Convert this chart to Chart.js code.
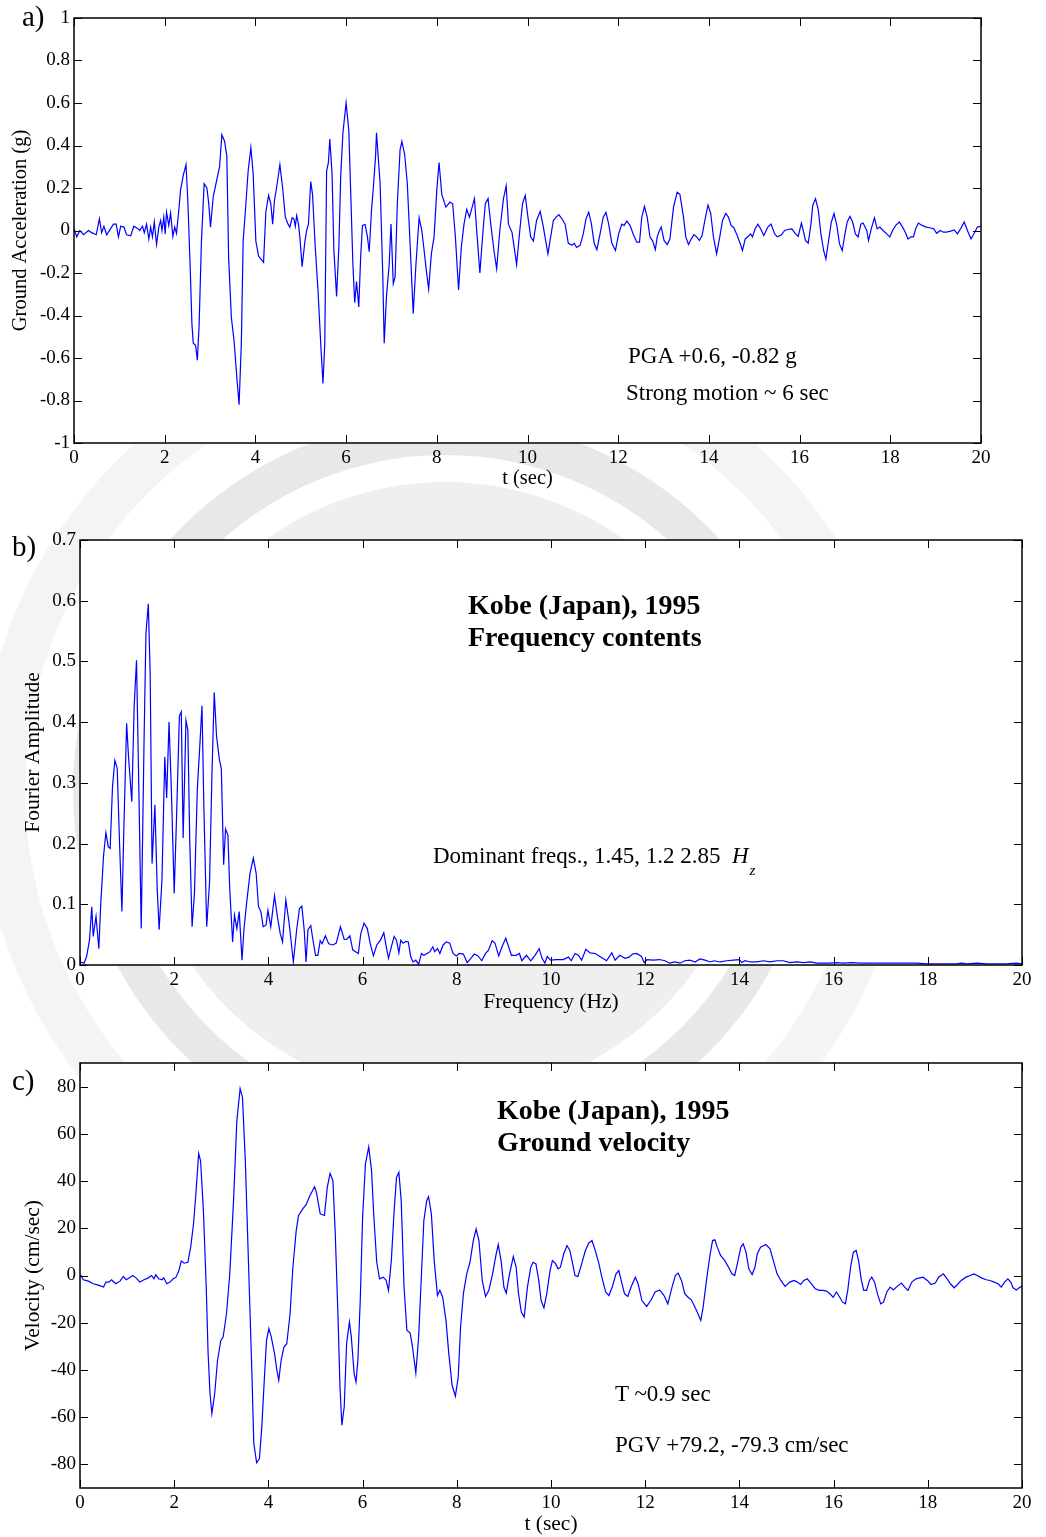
<!DOCTYPE html>
<html>
<head>
<meta charset="utf-8">
<title>Kobe (Japan), 1995 - ground motion</title>
<script src="https://cdn.jsdelivr.net/npm/chart.js@4"></script>
<style>
  body { margin: 0; background: #fff; }
  #page { position: relative; width: 1046px; height: 1537px; overflow: hidden;
          font-family: "Liberation Serif", "Times New Roman", serif; color: #000; }
  #seal { position: absolute; left: 0; top: 0; }
  .panel { position: absolute; left: 0; }
  .note { position: absolute; white-space: nowrap; font-size: 23px; line-height: 23px; }
  .head { position: absolute; white-space: nowrap; font-size: 28px; line-height: 28px; font-weight: bold; }
  .tag { position: absolute; font-size: 29px; line-height: 29px; }
</style>
</head>
<body>
<div id="page">
  <canvas id="seal" width="1046" height="1537"></canvas>
  <canvas id="accChart" class="panel" style="top:0" width="1046" height="500"></canvas>
  <canvas id="fftChart" class="panel" style="top:500px" width="1046" height="520"></canvas>
  <canvas id="velChart" class="panel" style="top:1020px" width="1046" height="517"></canvas>

  <div class="tag" style="left:22px;top:2px">a)</div>
  <div class="tag" style="left:12px;top:532px">b)</div>
  <div class="tag" style="left:12px;top:1066px">c)</div>

  <div class="note" style="left:628px;top:344px">PGA +0.6, -0.82 g</div>
  <div class="note" style="left:626px;top:381px">Strong motion ~ 6 sec</div>

  <div class="head" style="left:468px;top:591px">Kobe (Japan), 1995</div>
  <div class="head" style="left:468px;top:623px">Frequency contents</div>
  <div class="note" style="left:433px;top:844px">Dominant freqs., 1.45, 1.2 2.85&nbsp;&nbsp;<i>H</i><i style="font-size:15px;position:relative;top:12px;left:1px">z</i></div>

  <div class="head" style="left:497px;top:1096px">Kobe (Japan), 1995</div>
  <div class="head" style="left:497px;top:1128px">Ground velocity</div>
  <div class="note" style="left:615px;top:1382px">T ~0.9 sec</div>
  <div class="note" style="left:615px;top:1433px">PGV +79.2, -79.3 cm/sec</div>
</div>

<script>
// axis ticks
const timeTicks = [0, 2, 4, 6, 8, 10, 12, 14, 16, 18, 20];
const accTicks = [-1, -0.8, -0.6, -0.4, -0.2, 0, 0.2, 0.4, 0.6, 0.8, 1];
const ampTicks = [0, 0.1, 0.2, 0.3, 0.4, 0.5, 0.6, 0.7];
const velTicks = [-80, -60, -40, -20, 0, 20, 40, 60, 80];

// ground acceleration [t (sec), g]
const accel = [
  [0,0.01],[0.06,-0.03],[0.13,0],[0.21,-0.02],[0.32,0],[0.39,-0.01],[0.49,-0.02],[0.56,0.055],[0.61,-0.01],[0.66,0.02],
  [0.72,-0.02],[0.87,0.03],[0.93,0.03],[0.98,-0.03],[1.03,0.02],[1.1,0.016],[1.16,-0.02],[1.25,-0.025],[1.32,0.02],[1.4,0.01],
  [1.45,0],[1.51,0.02],[1.55,-0.01],[1.6,0.03],[1.65,-0.04],[1.69,0.016],[1.73,-0.03],[1.77,0.04],[1.82,-0.066],[1.87,0.016],
  [1.91,0.047],[1.94,0],[1.98,0.063],[2.01,-0.016],[2.04,0.086],[2.09,0.024],[2.13,0.082],[2.18,-0.028],[2.22,0.016],[2.26,-0.013],
  [2.31,0.094],[2.35,0.19],[2.41,0.26],[2.47,0.31],[2.51,0.14],[2.56,-0.16],[2.6,-0.44],[2.63,-0.53],[2.68,-0.54],[2.72,-0.61],
  [2.76,-0.44],[2.81,-0.05],[2.87,0.22],[2.93,0.2],[2.97,0.13],[3.01,0.016],[3.07,0.16],[3.15,0.24],[3.21,0.3],[3.26,0.45],
  [3.32,0.42],[3.37,0.35],[3.41,-0.13],[3.47,-0.41],[3.53,-0.52],[3.59,-0.69],[3.64,-0.82],[3.69,-0.53],[3.73,-0.05],[3.78,0.094],
  [3.84,0.28],[3.9,0.39],[3.95,0.27],[4.01,-0.05],[4.07,-0.12],[4.18,-0.15],[4.23,0.086],[4.29,0.165],[4.34,0.126],[4.38,0.03],
  [4.42,0.14],[4.48,0.22],[4.54,0.31],[4.6,0.2],[4.66,0.063],[4.72,0.03],[4.76,0.016],[4.81,0.06],[4.85,0.055],[4.88,0.02],
  [4.91,0.07],[4.95,0.03],[4.98,-0.03],[5.03,-0.17],[5.09,-0.055],[5.13,0],[5.17,0.03],[5.22,0.23],[5.26,0.17],[5.32,-0.08],
  [5.38,-0.28],[5.44,-0.53],[5.49,-0.72],[5.53,-0.53],[5.57,0.28],[5.61,0.32],[5.64,0.43],[5.69,0.27],[5.73,-0.09],[5.79,-0.31],
  [5.84,-0.08],[5.88,0.25],[5.93,0.46],[6.0,0.6],[6.06,0.47],[6.1,0.19],[6.15,-0.16],[6.19,-0.34],[6.23,-0.24],[6.28,-0.36],
  [6.32,-0.13],[6.36,0.024],[6.42,0.028],[6.47,-0.03],[6.51,-0.1],[6.56,0.094],[6.6,0.2],[6.65,0.35],[6.67,0.46],[6.75,0.22],
  [6.81,-0.22],[6.84,-0.53],[6.89,-0.31],[6.95,-0.16],[6.99,0.03],[7.04,-0.25],[7.08,-0.22],[7.13,0.126],[7.19,0.38],[7.23,0.42],
  [7.29,0.36],[7.35,0.22],[7.41,-0.06],[7.48,-0.39],[7.54,-0.16],[7.61,0.06],[7.67,0],[7.72,-0.094],[7.77,-0.19],[7.82,-0.275],
  [7.88,-0.11],[7.94,-0.03],[8.0,0.19],[8.05,0.32],[8.11,0.17],[8.2,0.11],[8.29,0.134],[8.35,0.126],[8.41,-0.03],[8.48,-0.28],
  [8.54,-0.08],[8.6,0.03],[8.66,0.1],[8.72,0.063],[8.78,0.11],[8.83,0.15],[8.89,-0.03],[8.95,-0.2],[9.02,0],[9.07,0.126],
  [9.13,0.15],[9.19,0.03],[9.26,-0.094],[9.32,-0.18],[9.39,0],[9.47,0.15],[9.53,0.21],[9.58,0.03],[9.66,-0.01],[9.76,-0.16],
  [9.83,0],[9.89,0.126],[9.95,0.165],[10.01,0.063],[10.07,-0.03],[10.13,-0.05],[10.2,0.047],[10.28,0.09],[10.35,0.016],[10.45,-0.11],
  [10.57,0.047],[10.63,0.063],[10.69,0.075],[10.76,0.055],[10.83,0.03],[10.9,-0.06],[10.98,-0.07],[11.03,-0.06],[11.08,-0.08],[11.16,-0.07],
  [11.23,-0.016],[11.29,0.055],[11.35,0.086],[11.41,0.03],[11.47,-0.06],[11.53,-0.09],[11.6,-0.016],[11.67,0.063],[11.73,0.085],[11.79,0.03],
  [11.86,-0.06],[11.94,-0.094],[12.01,-0.016],[12.08,0.03],[12.13,0.024],[12.19,0.044],[12.26,0.024],[12.33,-0.016],[12.41,-0.055],[12.47,-0.055],
  [12.52,0.063],[12.58,0.113],[12.64,0.063],[12.7,-0.03],[12.76,-0.05],[12.82,-0.09],[12.86,-0.03],[12.91,0],[12.95,0.016],[13.01,-0.047],
  [13.08,-0.066],[13.14,-0.04],[13.22,0.11],[13.3,0.18],[13.36,0.17],[13.44,0.063],[13.49,-0.03],[13.55,-0.066],[13.61,-0.04],[13.67,-0.02],
  [13.73,-0.03],[13.79,-0.047],[13.85,-0.024],[13.91,0.047],[13.98,0.12],[14.04,0.08],[14.1,-0.03],[14.17,-0.11],[14.24,-0.03],[14.3,0.047],
  [14.37,0.08],[14.43,0.063],[14.49,0.024],[14.55,0.013],[14.61,-0.016],[14.68,-0.055],[14.74,-0.094],[14.8,-0.04],[14.86,-0.028],[14.92,-0.016],
  [14.96,-0.03],[15.02,0.008],[15.08,0.03],[15.14,0.008],[15.21,-0.024],[15.3,0.016],[15.37,0.03],[15.45,-0.016],[15.51,-0.03],[15.6,-0.02],
  [15.67,0],[15.76,0.006],[15.83,0.008],[15.91,-0.016],[15.97,-0.028],[16.04,0.035],[16.08,0],[16.13,-0.047],[16.19,-0.06],[16.25,0.03],
  [16.29,0.118],[16.35,0.15],[16.41,0.1],[16.47,-0.016],[16.53,-0.094],[16.58,-0.134],[16.64,-0.047],[16.7,0.04],[16.76,0.08],[16.82,0.024],
  [16.88,-0.063],[16.94,-0.094],[17.0,-0.016],[17.05,0.04],[17.11,0.066],[17.17,0.04],[17.23,-0.016],[17.29,-0.03],[17.35,0.03],[17.4,0.035],
  [17.48,0],[17.52,-0.047],[17.58,0.008],[17.65,0.06],[17.71,0.008],[17.77,0.016],[17.84,0],[17.92,-0.016],[17.99,-0.03],[18.05,0],
  [18.12,0.024],[18.2,0.04],[18.27,0.016],[18.33,-0.008],[18.39,-0.04],[18.45,-0.03],[18.51,-0.03],[18.56,0.008],[18.62,0.035],[18.7,0.024],
  [18.79,0.016],[18.87,0.013],[18.96,0.008],[19.02,-0.013],[19.1,0],[19.17,-0.008],[19.24,-0.008],[19.33,-0.003],[19.41,0.003],[19.48,-0.016],
  [19.55,0.008],[19.63,0.04],[19.7,0],[19.78,-0.04],[19.85,-0.013],[19.92,0.016],[20,0.02]
];

// Fourier amplitude [Hz, amplitude]
const spectrum = [
  [0,0.005],[0.085,0.003],[0.14,0.014],[0.2,0.04],[0.25,0.096],[0.28,0.047],[0.34,0.08],[0.4,0.027],[0.44,0.1],[0.5,0.18],
  [0.55,0.218],[0.6,0.195],[0.64,0.192],[0.69,0.294],[0.74,0.337],[0.79,0.324],[0.84,0.2],[0.89,0.088],[0.93,0.222],[0.99,0.398],
  [1.03,0.343],[1.1,0.269],[1.15,0.426],[1.2,0.502],[1.25,0.288],[1.3,0.06],[1.36,0.37],[1.4,0.546],[1.45,0.595],[1.49,0.48],
  [1.53,0.167],[1.59,0.264],[1.64,0.124],[1.68,0.058],[1.74,0.14],[1.8,0.343],[1.84,0.275],[1.89,0.4],[1.94,0.288],[2.0,0.118],
  [2.05,0.244],[2.11,0.41],[2.15,0.417],[2.19,0.209],[2.25,0.403],[2.29,0.387],[2.33,0.206],[2.38,0.063],[2.43,0.118],[2.49,0.288],
  [2.55,0.37],[2.59,0.427],[2.63,0.26],[2.69,0.063],[2.75,0.135],[2.8,0.31],[2.85,0.449],[2.9,0.376],[2.96,0.338],[3.0,0.324],
  [3.05,0.165],[3.09,0.224],[3.14,0.214],[3.18,0.124],[3.24,0.038],[3.28,0.082],[3.33,0.06],[3.38,0.088],[3.44,0.008],[3.48,0.058],
  [3.54,0.104],[3.61,0.151],[3.68,0.176],[3.74,0.151],[3.79,0.096],[3.84,0.088],[3.89,0.063],[3.95,0.066],[3.99,0.09],[4.05,0.063],
  [4.13,0.114],[4.19,0.08],[4.25,0.052],[4.3,0.038],[4.37,0.107],[4.44,0.069],[4.53,0.005],[4.6,0.058],[4.66,0.093],[4.71,0.097],
  [4.76,0.058],[4.8,0.005],[4.84,0.058],[4.9,0.065],[4.94,0.044],[5.0,0.016],[5.05,0.016],[5.1,0.04],[5.14,0.035],[5.21,0.048],
  [5.28,0.035],[5.37,0.033],[5.44,0.036],[5.53,0.063],[5.61,0.042],[5.66,0.042],[5.73,0.048],[5.79,0.025],[5.85,0.022],[5.91,0.019],
  [5.96,0.051],[6.03,0.069],[6.1,0.06],[6.16,0.036],[6.23,0.015],[6.3,0.033],[6.38,0.041],[6.45,0.053],[6.51,0.027],[6.55,0.011],
  [6.61,0.03],[6.67,0.047],[6.72,0.041],[6.77,0.02],[6.81,0.041],[6.86,0.036],[6.92,0.039],[6.97,0.038],[7.02,0.014],[7.07,0.005],
  [7.13,0.008],[7.19,0.001],[7.25,0.019],[7.3,0.016],[7.37,0.019],[7.43,0.022],[7.49,0.03],[7.53,0.022],[7.59,0.027],[7.64,0.019],
  [7.71,0.033],[7.78,0.038],[7.85,0.036],[7.92,0.019],[7.99,0.015],[8.05,0.019],[8.14,0.018],[8.22,0.004],[8.3,0.011],[8.37,0.018],
  [8.45,0.015],[8.53,0.007],[8.61,0.019],[8.67,0.024],[8.75,0.04],[8.81,0.036],[8.89,0.015],[8.96,0.03],[9.04,0.044],[9.1,0.03],
  [9.16,0.016],[9.26,0.016],[9.33,0.019],[9.38,0.007],[9.48,0.016],[9.57,0.007],[9.66,0.016],[9.75,0.027],[9.81,0.011],[9.87,0.003],
  [9.92,0.014],[9.99,0.008],[10.12,0.009],[10.26,0.009],[10.37,0.013],[10.43,0.007],[10.51,0.019],[10.58,0.016],[10.65,0.008],[10.74,0.026],
  [10.83,0.02],[10.94,0.019],[11.04,0.014],[11.18,0.007],[11.29,0.02],[11.36,0.008],[11.46,0.016],[11.57,0.011],[11.66,0.013],[11.73,0.018],
  [11.82,0.019],[11.92,0.014],[11.98,0.004],[12.04,0.009],[12.17,0.008],[12.3,0.009],[12.42,0.007],[12.52,0.003],[12.63,0.005],[12.74,0.003],
  [12.84,0.007],[12.95,0.008],[13.06,0.005],[13.16,0.01],[13.27,0.008],[13.38,0.005],[13.46,0.007],[13.59,0.005],[13.73,0.007],[13.87,0.008],
  [14.0,0.009],[14.05,0.004],[14.12,0.007],[14.23,0.005],[14.37,0.005],[14.51,0.007],[14.65,0.005],[14.79,0.007],[14.93,0.007],[15.07,0.004],
  [15.22,0.005],[15.36,0.004],[15.5,0.005],[15.64,0.003],[15.78,0.003],[15.92,0.003],[16.06,0.004],[16.2,0.003],[16.38,0.004],[16.56,0.003],
  [16.74,0.003],[16.91,0.003],[17.13,0.003],[17.34,0.003],[17.55,0.003],[17.76,0.003],[17.98,0.002],[18.19,0.002],[18.4,0.002],[18.61,0.002],
  [18.72,0.003],[18.83,0.002],[19.04,0.003],[19.25,0.002],[19.46,0.002],[19.67,0.002],[19.88,0.003],[20,0.002]
];

// ground velocity [t (sec), cm/sec]
const velocity = [
  [0.01,0.4],[0.07,-1.8],[0.18,-2.4],[0.28,-3.5],[0.39,-4.1],[0.5,-4.9],[0.55,-2.8],[0.61,-2.8],[0.67,-1.8],[0.76,-3.5],
  [0.85,-2.4],[0.92,-0.4],[0.98,-1.8],[1.05,-1],[1.12,0],[1.19,-1],[1.27,-2.8],[1.36,-1.8],[1.45,-1],[1.52,0],
  [1.57,-1.4],[1.61,0.3],[1.67,-1.4],[1.74,-1.8],[1.78,-1],[1.84,-3.5],[1.91,-2.8],[1.98,-1.4],[2.04,-0.7],[2.1,2.1],
  [2.15,6.1],[2.21,5.2],[2.29,5.6],[2.35,12],[2.41,21.8],[2.46,34.5],[2.52,51.7],[2.56,48.6],[2.62,27.5],[2.68,-4.9],
  [2.72,-33],[2.76,-50],[2.8,-58.5],[2.86,-50],[2.92,-35.9],[2.99,-27.5],[3.04,-26],[3.11,-16.2],[3.18,0.7],[3.26,31.7],
  [3.33,65.5],[3.4,79.2],[3.45,75.4],[3.51,48.6],[3.58,3.5],[3.65,-41.5],[3.69,-71.1],[3.75,-79.3],[3.81,-77.5],[3.86,-64.1],
  [3.92,-41.5],[3.96,-27.5],[4.01,-22.5],[4.06,-26],[4.13,-33],[4.18,-40.1],[4.22,-44.4],[4.27,-35.9],[4.33,-30.3],[4.39,-28.9],
  [4.46,-16.2],[4.52,3.5],[4.59,19],[4.64,25.4],[4.73,28.2],[4.8,30],[4.88,33.8],[4.98,37.6],[5.02,35.2],[5.1,26.1],
  [5.19,25.4],[5.25,37.3],[5.31,43.2],[5.37,40.1],[5.42,17.6],[5.48,-19],[5.52,-47.2],[5.56,-63.4],[5.61,-55.6],[5.66,-28.9],
  [5.72,-19.7],[5.76,-26],[5.82,-41.5],[5.86,-45.1],[5.9,-35.9],[5.95,-10.6],[6.0,24.6],[6.06,47.2],[6.13,54.5],[6.19,44.4],
  [6.24,24.6],[6.3,5.6],[6.36,-1.4],[6.44,-0.7],[6.5,-2.1],[6.55,-6.3],[6.61,6.3],[6.67,27.5],[6.72,41.5],[6.77,43.7],
  [6.82,31.7],[6.88,-4.9],[6.94,-23.2],[7.01,-24.4],[7.06,-30.3],[7.13,-41.3],[7.19,-26],[7.25,0.7],[7.3,23.2],[7.36,31.7],
  [7.4,33.4],[7.46,26.1],[7.52,6.3],[7.59,-8.5],[7.64,-6.3],[7.7,-9.2],[7.77,-19],[7.83,-33.1],[7.9,-46.5],[7.97,-51.1],
  [8.03,-43],[8.08,-21.8],[8.14,-7.7],[8.21,0.7],[8.28,5.6],[8.35,14.8],[8.41,19.7],[8.47,14.8],[8.54,-2.1],[8.61,-8.9],
  [8.68,-6.3],[8.76,0.7],[8.83,8.5],[8.88,13.1],[8.94,6.3],[9.0,-4.9],[9.05,-7.5],[9.12,0.7],[9.2,8],[9.26,3.5],
  [9.31,-7.7],[9.37,-15.5],[9.43,-17.6],[9.5,-4.9],[9.57,3.5],[9.62,5.6],[9.68,4.9],[9.74,-2.1],[9.79,-10.6],[9.85,-13.7],
  [9.91,-7.7],[9.98,2.1],[10.03,6.3],[10.09,5.2],[10.15,2.8],[10.2,3.5],[10.27,9.2],[10.34,12.7],[10.4,10.6],[10.46,4.9],
  [10.51,0],[10.57,-0.4],[10.64,4.2],[10.73,10.6],[10.8,13.7],[10.87,14.8],[10.94,10.6],[11.01,5.6],[11.08,-0.7],[11.16,-7],
  [11.23,-8.5],[11.3,-4.9],[11.38,0.7],[11.44,2.1],[11.49,-2.1],[11.56,-7.7],[11.63,-8.9],[11.7,-4.9],[11.79,-0.7],[11.85,-3.5],
  [11.93,-10.6],[12.03,-13.1],[12.12,-10.6],[12.21,-7],[12.31,-6.1],[12.4,-8.5],[12.48,-12],[12.57,-4.9],[12.64,0],[12.7,1],
  [12.77,-2.1],[12.84,-7.7],[12.92,-9.4],[12.98,-10.3],[13.09,-14.8],[13.18,-19],[13.23,-13.4],[13.31,-0.7],[13.38,9.2],[13.43,14.8],
  [13.48,15.1],[13.53,12],[13.6,8.5],[13.69,6.3],[13.77,3.5],[13.84,0.7],[13.9,0],[13.97,6.3],[14.03,12],[14.08,13.4],
  [14.14,9.9],[14.2,2.8],[14.27,0.4],[14.33,3.5],[14.38,9.2],[14.45,12],[14.56,13.1],[14.65,11.3],[14.74,4.9],[14.8,0.7],
  [14.88,-2.1],[14.97,-4.6],[15.07,-2.8],[15.16,-2.1],[15.23,-2.8],[15.3,-3.8],[15.37,-2.1],[15.44,-1.4],[15.53,-3.5],[15.61,-5.6],
  [15.7,-6.3],[15.78,-6.3],[15.85,-6.6],[15.92,-7.7],[15.99,-9.2],[16.06,-7],[16.13,-9.2],[16.19,-11.3],[16.25,-12],[16.3,-6.3],
  [16.36,3.5],[16.42,9.9],[16.48,10.6],[16.53,6.3],[16.59,-2.1],[16.64,-6.3],[16.7,-6.3],[16.76,-2.1],[16.81,-0.7],[16.87,-2.8],
  [16.93,-7.7],[17.0,-12],[17.06,-11.3],[17.13,-7],[17.2,-4.9],[17.27,-6.1],[17.35,-4.6],[17.44,-3.2],[17.51,-4.9],[17.58,-6.3],
  [17.66,-2.8],[17.75,-1.4],[17.83,-1],[17.9,-0.7],[17.99,-2.1],[18.07,-3.8],[18.16,-3.2],[18.23,-0.7],[18.33,0.7],[18.41,-1.4],
  [18.48,-3.5],[18.56,-5.2],[18.63,-3.8],[18.71,-2.1],[18.81,-0.7],[18.9,0],[18.98,0.7],[19.05,0],[19.14,-1],[19.24,-1.8],
  [19.32,-2.1],[19.41,-2.8],[19.49,-3.5],[19.56,-4.9],[19.63,-2.8],[19.7,-1.4],[19.76,-2.8],[19.81,-5.2],[19.88,-6.1],[19.96,-4.9],
  [20,-4.6]
];

// faint seal behind the figure
(function drawSeal() {
  const c = document.getElementById('seal').getContext('2d');
  const cx = 445, cy = 790;
  c.fillStyle = '#f4f4f4';
  c.beginPath(); c.arc(cx, cy, 465, 0, Math.PI * 2); c.arc(cx, cy, 420, 0, Math.PI * 2, true); c.fill();
  c.fillStyle = '#e8e8e8';
  c.beginPath(); c.arc(cx, cy, 372, 0, Math.PI * 2); c.arc(cx, cy, 335, 0, Math.PI * 2, true); c.fill();
  c.fillStyle = '#efefef';
  c.beginPath(); c.arc(cx, cy, 308, 0, Math.PI * 2); c.fill();
})();

Chart.defaults.font.family = '"Liberation Serif", "Times New Roman", serif';
Chart.defaults.color = '#000';

// white axes box with inward ticks on all four sides
const boxFrame = {
  id: 'boxFrame',
  beforeDraw(chart) {
    const {ctx, chartArea: a} = chart;
    ctx.save();
    ctx.fillStyle = '#fff';
    ctx.fillRect(a.left, a.top, a.right - a.left, a.bottom - a.top);
    ctx.restore();
  },
  afterDraw(chart) {
    const {ctx, chartArea: a, scales: {x, y}} = chart;
    const len = 8;
    ctx.save();
    ctx.strokeStyle = '#000';
    ctx.lineWidth = 1;
    ctx.beginPath();
    x.ticks.forEach(t => {
      const px = Math.round(x.getPixelForValue(t.value)) + 0.5;
      ctx.moveTo(px, a.bottom); ctx.lineTo(px, a.bottom - len);
      ctx.moveTo(px, a.top); ctx.lineTo(px, a.top + len);
    });
    y.ticks.forEach(t => {
      const py = Math.round(y.getPixelForValue(t.value)) + 0.5;
      ctx.moveTo(a.left, py); ctx.lineTo(a.left + len, py);
      ctx.moveTo(a.right, py); ctx.lineTo(a.right - len, py);
    });
    ctx.stroke();
    ctx.lineWidth = 1.5;
    ctx.strokeRect(a.left, a.top, a.right - a.left, a.bottom - a.top);
    ctx.restore();
  }
};

function makePanel(id, p) {
  const tickFont = {size: 19};
  const titleFont = {size: p.titleSize};
  return new Chart(document.getElementById(id), {
    type: 'line',
    data: {
      datasets: [{
        data: p.points.map(([x, y]) => ({x, y})),
        borderColor: '#0000ff',
        borderWidth: 1.2,
        pointRadius: 0,
        tension: 0,
        fill: false
      }]
    },
    options: {
      responsive: false,
      animation: false,
      layout: {padding: {left: 0, top: p.top, right: p.right, bottom: 0}},
      plugins: {legend: {display: false}, tooltip: {enabled: false}},
      scales: {
        x: {
          type: 'linear', min: 0, max: 20,
          afterBuildTicks: s => { s.ticks = timeTicks.map(v => ({value: v})); },
          afterFit: s => { s.height = p.xHeight; },
          ticks: {font: tickFont, color: '#000', padding: 4, maxRotation: 0, autoSkip: false, callback: v => String(v)},
          grid: {display: false, drawTicks: false},
          border: {display: false},
          title: {display: true, text: p.xTitle, font: titleFont, color: '#000', padding: {top: 0, bottom: p.xTitlePad}}
        },
        y: {
          type: 'linear', min: p.yMin, max: p.yMax,
          afterBuildTicks: s => { s.ticks = p.yTicks.map(v => ({value: v})); },
          afterFit: s => { s.width = p.yWidth; },
          ticks: {font: tickFont, color: '#000', padding: 4, autoSkip: false, callback: v => String(v)},
          grid: {display: false, drawTicks: false},
          border: {display: false},
          title: {display: true, text: p.yTitle, font: titleFont, color: '#000', padding: {top: p.yTitlePad, bottom: 0}}
        }
      }
    },
    plugins: [boxFrame]
  });
}

makePanel('accChart', {
  points: accel, yMin: -1, yMax: 1, yTicks: accTicks,
  top: 18, right: 65, xHeight: 57, yWidth: 74, titleSize: 20.5,
  xTitle: 't (sec)', xTitlePad: 9, yTitle: 'Ground Acceleration (g)', yTitlePad: 8
});

makePanel('fftChart', {
  points: spectrum, yMin: 0, yMax: 0.7, yTicks: ampTicks,
  top: 40, right: 24, xHeight: 55, yWidth: 80, titleSize: 21.5,
  xTitle: 'Frequency (Hz)', xTitlePad: 5, yTitle: 'Fourier Amplitude', yTitlePad: 20
});

makePanel('velChart', {
  points: velocity, yMin: -90, yMax: 90, yTicks: velTicks,
  top: 43, right: 24, xHeight: 49, yWidth: 80, titleSize: 21.5,
  xTitle: 't (sec)', xTitlePad: 0, yTitle: 'Velocity (cm/sec)', yTitlePad: 20
});
</script>
</body>
</html>
